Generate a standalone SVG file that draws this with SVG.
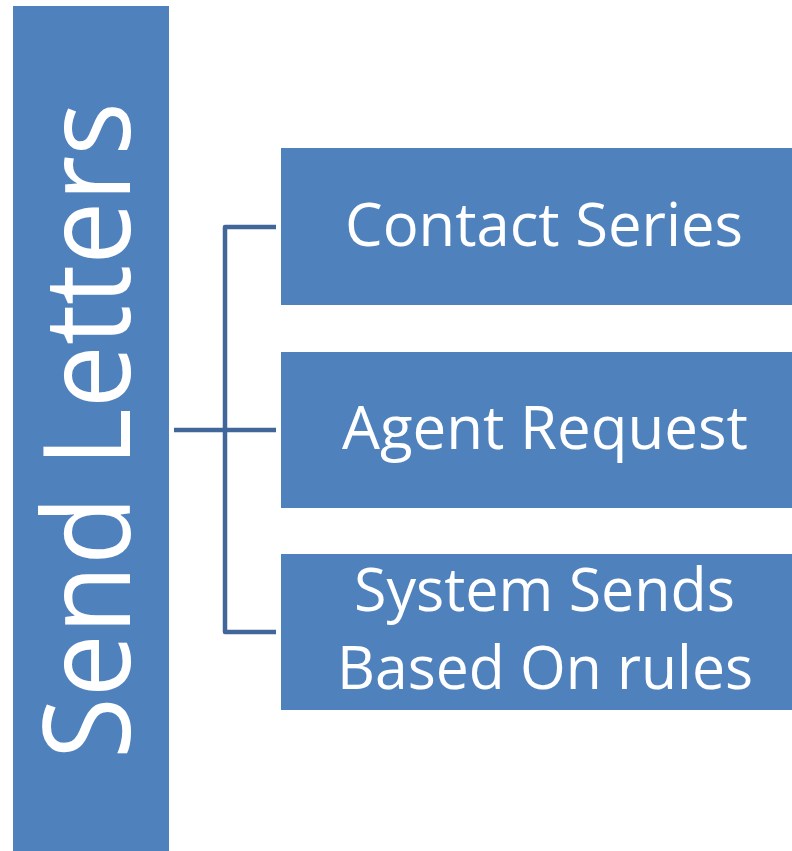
<svg xmlns="http://www.w3.org/2000/svg" width="792" height="851" viewBox="0 0 792 851">
  <style>
    .box { fill: #4F81BD; }
    .lbl { fill: #FFFFFF; font-family: "Open Sans", "Noto Sans", "Liberation Sans", sans-serif; text-anchor: middle; }
    .wire { fill: none; stroke: #41679A; stroke-width: 4.5; stroke-linejoin: round; }
  </style>
  <rect x="0" y="0" width="792" height="851" fill="#FFFFFF"/>

  <g id="send-letters">
    <rect class="box" x="13" y="6" width="156" height="850"/>
    <text class="lbl" transform="translate(130 430.5) rotate(-90)" font-size="120" textLength="657" lengthAdjust="spacingAndGlyphs">Send Letters</text>
  </g>

  <g id="connectors">
    <path class="wire" d="M174 430 H225"/>
    <path class="wire" d="M276 227 H225 V632 H276"/>
    <path class="wire" d="M225 430 H276"/>
  </g>

  <g id="contact-series">
    <rect class="box" x="281" y="148" width="520" height="157"/>
    <text class="lbl" x="544" y="246" font-size="60" textLength="398" lengthAdjust="spacingAndGlyphs">Contact Series</text>
  </g>

  <g id="agent-request">
    <rect class="box" x="281" y="352" width="520" height="156"/>
    <text class="lbl" x="545" y="449" font-size="60" textLength="406" lengthAdjust="spacingAndGlyphs">Agent Request</text>
  </g>

  <g id="system-sends">
    <rect class="box" x="281" y="554" width="520" height="156"/>
    <text class="lbl" x="544.5" y="611" font-size="60" textLength="381" lengthAdjust="spacingAndGlyphs">System Sends</text>
    <text class="lbl" x="545" y="689" font-size="60" textLength="416" lengthAdjust="spacingAndGlyphs">Based On rules</text>
  </g>
</svg>
